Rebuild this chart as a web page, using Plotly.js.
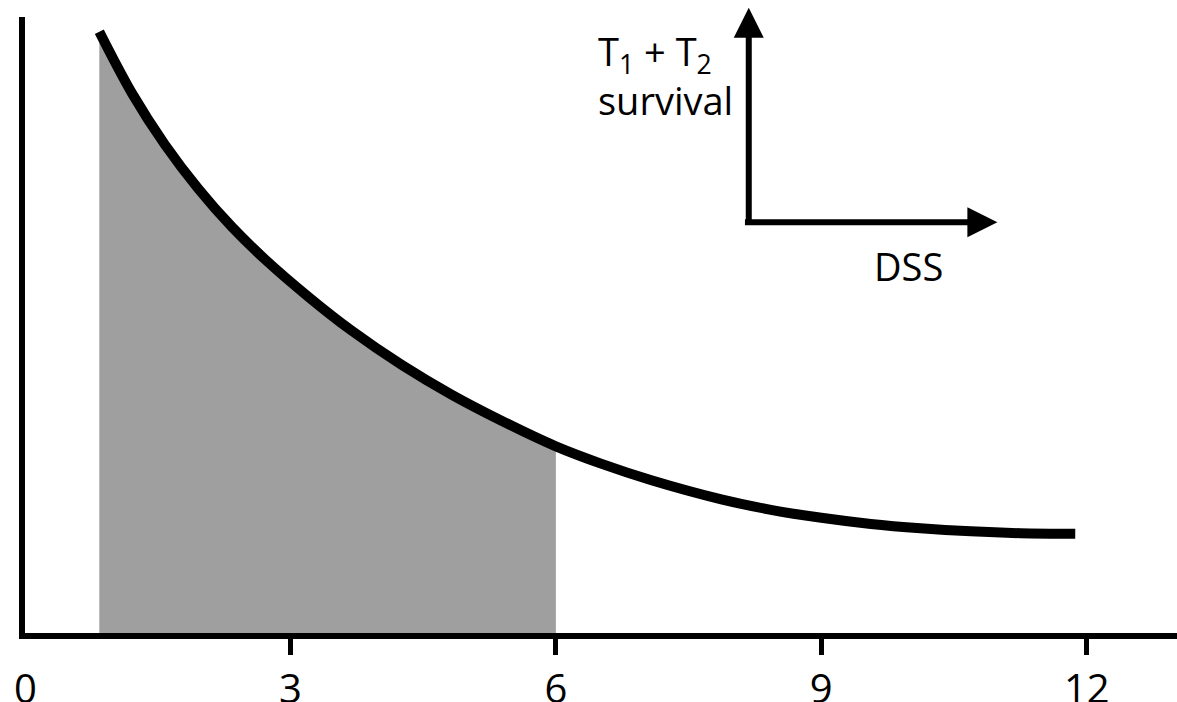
<!DOCTYPE html>
<html>
<head>
<meta charset="utf-8">
<script src="https://cdn.plot.ly/plotly-3.0.1.min.js"></script>
<style>html,body{margin:0;padding:0;background:#fff;}#chart{width:1177px;height:702px;}</style>
</head>
<body>
<div id="chart"></div>
<script>
// Survival curve (x in time units, y in relative survival units)
const curveX = [0.84, 1.21, 1.58, 1.96, 2.34, 2.71, 3.21, 3.69, 4.26, 4.82, 5.38, 6.0, 6.51, 7.08, 7.87, 8.43, 9.0, 9.56, 10.12, 10.69, 11.25, 11.87];
const curveY = [97.6, 87.6, 79.3, 72.1, 65.9, 60.7, 54.5, 49.1, 43.5, 38.7, 34.5, 30.3, 27.5, 24.8, 21.7, 20.0, 18.7, 17.7, 17.0, 16.5, 16.2, 16.1];
const shadeEnd = 6;
const markedTicks = [3, 6, 9, 12];
const markedLabels = ['3', '6', '9', '12'];
const originValue = 0;
const originLabel = '0';
const insetYLabel = 'T<sub>1</sub> + T<sub>2</sub><br>survival';
const insetXLabel = 'DSS';

const shadeX = [], shadeY = [];
curveX.forEach((x, i) => { if (x <= shadeEnd) { shadeX.push(x); shadeY.push(curveY[i]); } });

const FONT = 'Open Sans, Noto Sans, sans-serif';
const xr = [0, 13.02];
const yr = [0, 100];

const traces = [
  {
    x: shadeX, y: shadeY, type: 'scatter', mode: 'none', fill: 'tozeroy',
    fillcolor: '#9f9f9f', line: {shape: 'spline'}, hoverinfo: 'skip'
  },
  {
    x: curveX, y: curveY, type: 'scatter', mode: 'lines',
    line: {color: '#000', width: 10, shape: 'spline'}, hoverinfo: 'skip'
  }
];

const layout = {
  width: 1177, height: 702,
  margin: {l: 25, r: 0, t: 17, b: 69},
  paper_bgcolor: '#fff', plot_bgcolor: '#fff',
  showlegend: false,
  font: {family: FONT, size: 40, color: '#000'},
  xaxis: {
    range: xr, showgrid: false, zeroline: false,
    showline: true, linecolor: 'black', linewidth: 6,
    tickmode: 'array', tickvals: markedTicks, ticktext: markedLabels,
    ticks: 'outside', ticklen: 16, tickwidth: 5, tickcolor: 'black',
    tickfont: {family: FONT, size: 40, color: '#000'}
  },
  yaxis: {
    range: yr, showgrid: false, zeroline: false,
    showline: true, linecolor: 'black', linewidth: 6,
    ticks: '', showticklabels: false
  },
  annotations: [
    {x: originValue, y: -0.0877, xref: 'x', yref: 'paper', xanchor: 'center', yanchor: 'middle',
     text: originLabel, showarrow: false, font: {family: FONT, size: 40, color: '#000'}},
    {x: 8.18, y: 101.5, ax: 8.18, ay: 66.7, xref: 'x', yref: 'y', axref: 'x', ayref: 'y',
     text: '', showarrow: true, arrowhead: 2, arrowsize: 1, arrowwidth: 6, arrowcolor: '#000', standoff: 0},
    {x: 10.99, y: 66.7, ax: 8.12, ay: 66.7, xref: 'x', yref: 'y', axref: 'x', ayref: 'y',
     text: '', showarrow: true, arrowhead: 2, arrowsize: 1, arrowwidth: 6, arrowcolor: '#000', standoff: 0},
    {x: 8.02, y: 90.5, xref: 'x', yref: 'y', xanchor: 'right', yanchor: 'middle', align: 'left',
     text: insetYLabel, showarrow: false, font: {family: FONT, size: 38, color: '#000'}},
    {x: 9.98, y: 59.5, xref: 'x', yref: 'y', xanchor: 'center', yanchor: 'middle',
     text: insetXLabel, showarrow: false, font: {family: FONT, size: 38, color: '#000'}}
  ]
};

Plotly.newPlot('chart', traces, layout, {displayModeBar: false});
</script>
</body>
</html>
